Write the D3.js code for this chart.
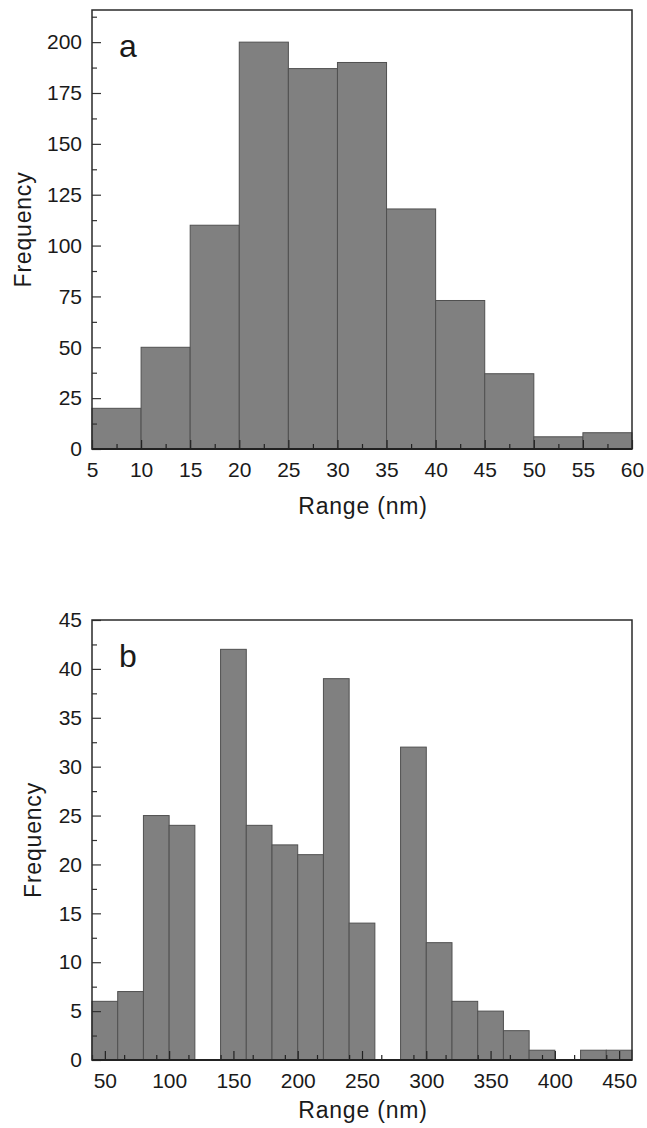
<!DOCTYPE html>
<html>
<head>
<meta charset="utf-8">
<script src="https://cdn.jsdelivr.net/npm/d3@7/dist/d3.min.js"></script>
<style>
  html, body { margin: 0; padding: 0; background: #fff; }
  svg { display: block; }
  text { font-family: "Liberation Sans", Arial, sans-serif; fill: #1a1a1a; }
</style>
</head>
<body>
<svg id="chart" width="647" height="1128"></svg>
<script>
// Panel a: particle size histogram, 5 nm bins
const binStartA = [5, 10, 15, 20, 25, 30, 35, 40, 45, 50, 55];
const binWidthA = 5;
const freqA = [20, 50, 110, 200, 187, 190, 118, 73, 37, 6, 8];
const xTicksA = [5, 10, 15, 20, 25, 30, 35, 40, 45, 50, 55, 60];
const yTicksA = [0, 25, 50, 75, 100, 125, 150, 175, 200];

// Panel b: particle size histogram, 20 nm bins
const binStartB = [40, 60, 80, 100, 120, 140, 160, 180, 200, 220, 240, 260, 280, 300, 320, 340, 360, 380, 400, 420, 440];
const binWidthB = 20;
const freqB = [6, 7, 25, 24, 0, 42, 24, 22, 21, 39, 14, 0, 32, 12, 6, 5, 3, 1, 0, 1, 1];
const xTicksB = [50, 100, 150, 200, 250, 300, 350, 400, 450];
const yTicksB = [0, 5, 10, 15, 20, 25, 30, 35, 40, 45];

const svg = d3.select("#chart");

function panel(opts) {
  const { left, right, top, bottom, xDomain, yDomain, starts, width, freq,
          xTicks, yTicks, xMinorStep, yMinorStep, letter, ylabX, titleGap } = opts;
  const x = d3.scaleLinear().domain(xDomain).range([left, right]);
  const y = d3.scaleLinear().domain(yDomain).range([bottom, top]);
  const g = svg.append("g");

  // bars
  g.selectAll("rect.bar")
    .data(starts.map((s, i) => ({ s, v: freq[i] })).filter(d => d.v > 0))
    .join("rect")
    .attr("class", "bar")
    .attr("x", d => x(d.s))
    .attr("width", d => x(d.s + width) - x(d.s))
    .attr("y", d => y(d.v))
    .attr("height", d => y(0) - y(d.v))
    .attr("fill", "#808080")
    .attr("stroke", "#505050")
    .attr("stroke-width", 1);

  // minor ticks
  const xMinor = d3.range(xDomain[0], xDomain[1] + 1e-9, xMinorStep).filter(v => !xTicks.includes(v));
  const yMinor = d3.range(yDomain[0], yDomain[1] + 1e-9, yMinorStep).filter(v => !yTicks.includes(v));

  // left axis with inward ticks
  const yAxis = d3.axisLeft(y).tickValues(yTicks).tickSize(-9).tickPadding(10).tickFormat(d3.format("d"));
  const ya = g.append("g").attr("transform", `translate(${left},0)`).call(yAxis);
  ya.select(".domain").remove();
  ya.selectAll(".tick line").attr("stroke", "#333").attr("stroke-width", 1.2);
  ya.selectAll(".tick text").attr("font-size", 21).attr("fill", "#1a1a1a");
  g.append("g").attr("transform", `translate(${left},0)`)
    .call(d3.axisLeft(y).tickValues(yMinor).tickSize(-5).tickFormat(""))
    .call(s => s.select(".domain").remove())
    .selectAll(".tick line").attr("stroke", "#333").attr("stroke-width", 1.2);

  // bottom axis with inward ticks
  const xAxis = d3.axisBottom(x).tickValues(xTicks).tickSize(-9).tickPadding(13).tickFormat(d3.format("d"));
  const xa = g.append("g").attr("transform", `translate(0,${bottom})`).call(xAxis);
  xa.select(".domain").remove();
  xa.selectAll(".tick line").attr("stroke", "#222").attr("stroke-width", 1.2);
  xa.selectAll(".tick text").attr("font-size", 21).attr("fill", "#1a1a1a");
  g.append("g").attr("transform", `translate(0,${bottom})`)
    .call(d3.axisBottom(x).tickValues(xMinor).tickSize(-5).tickFormat(""))
    .call(s => s.select(".domain").remove())
    .selectAll(".tick line").attr("stroke", "#222").attr("stroke-width", 1.2);

  // frame
  g.append("rect")
    .attr("x", left).attr("y", top)
    .attr("width", right - left).attr("height", bottom - top)
    .attr("fill", "none").attr("stroke", "#2a2a2a").attr("stroke-width", 1.5);
  g.append("line")
    .attr("x1", left).attr("x2", right).attr("y1", bottom).attr("y2", bottom)
    .attr("stroke", "#222").attr("stroke-width", 2.2);

  // axis titles
  g.append("text")
    .attr("x", (left + right) / 2 + 1).attr("y", bottom + titleGap)
    .attr("text-anchor", "middle").attr("font-size", 23)
    .attr("letter-spacing", 0.8)
    .text("Range (nm)");
  g.append("text")
    .attr("transform", `translate(${ylabX},${(top + bottom) / 2}) rotate(-90)`)
    .attr("text-anchor", "middle").attr("font-size", 23)
    .attr("letter-spacing", 0.8)
    .text("Frequency");

  // panel letter
  g.append("text")
    .attr("x", left + 27).attr("y", top + 47)
    .attr("font-size", 32)
    .text(letter);
}

panel({
  left: 92, right: 632, top: 10, bottom: 449,
  xDomain: [5, 60], yDomain: [0, 215.8],
  starts: binStartA, width: binWidthA, freq: freqA,
  xTicks: xTicksA, yTicks: yTicksA, xMinorStep: 2.5, yMinorStep: 12.5,
  letter: "a", ylabX: 31, titleGap: 65
});

panel({
  left: 92, right: 632, top: 620, bottom: 1060,
  xDomain: [40, 460], yDomain: [0, 45],
  starts: binStartB, width: binWidthB, freq: freqB,
  xTicks: xTicksB, yTicks: yTicksB, xMinorStep: 25, yMinorStep: 2.5,
  letter: "b", ylabX: 41, titleGap: 58
});
</script>
</body>
</html>
